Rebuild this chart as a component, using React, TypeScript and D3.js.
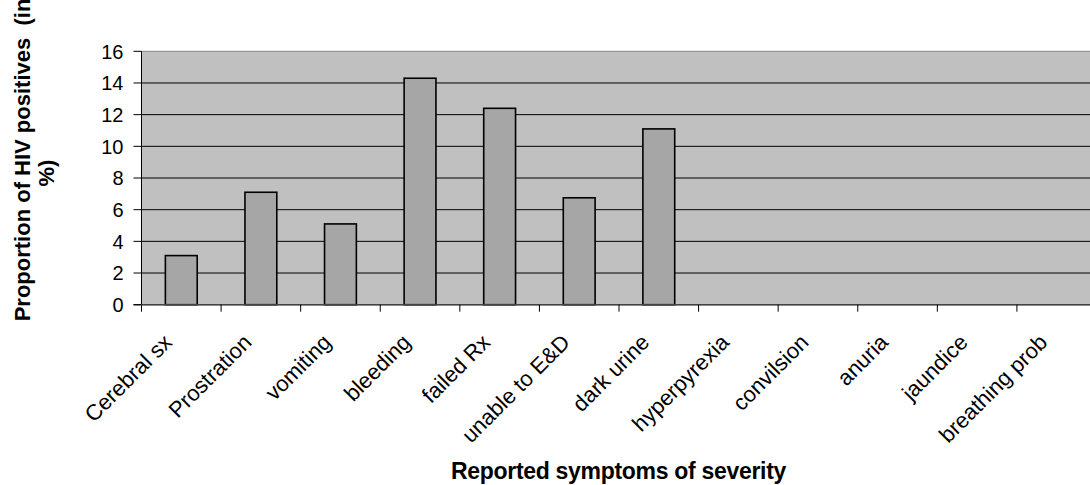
import React from "react";
import * as d3 from "d3";

const categories = [
  "Cerebral sx",
  "Prostration",
  "vomiting",
  "bleeding",
  "failed Rx",
  "unable to E&D",
  "dark urine",
  "hyperpyrexia",
  "convilsion",
  "anuria",
  "jaundice",
  "breathing prob",
];
const values = [3.1, 7.1, 5.1, 14.3, 12.4, 6.75, 11.1, 0, 0, 0, 0, 0];
const yTicks = [0, 2, 4, 6, 8, 10, 12, 14, 16];

const W = 1090;
const H = 485;
const left = 141.5;
const right = 1096.5;
const top = 51.3;
const bottom = 304.7;
const FONT = "Arial, 'Liberation Sans', Helvetica, sans-serif";

export default function App() {
  const x = d3.scaleBand<string>().domain(categories).range([left, right]).paddingInner(0).paddingOuter(0);
  const y = d3.scaleLinear().domain([0, 16]).range([bottom, top]);
  const bw = x.bandwidth() / 2.5;
  return (
    <svg
      width={W}
      height={H}
      style={{ position: "absolute", left: 0, top: 0, background: "#fff" }}
      fontFamily={FONT}
    >
      <rect x={left} y={top} width={right - left} height={bottom - top} fill="#c0c0c0" />
      {yTicks.map((t) => (
        <line
          key={"g" + t}
          x1={left}
          x2={right}
          y1={y(t)}
          y2={y(t)}
          stroke={t === 16 ? "#888" : "#000"}
          strokeWidth={1}
        />
      ))}
      {categories.map((c, i) =>
        values[i] > 0 ? (
          <rect
            key={"b" + c}
            x={x(c)! + (x.bandwidth() - bw) / 2}
            y={y(values[i])}
            width={bw}
            height={bottom - y(values[i])}
            fill="#a6a6a6"
            stroke="#000"
            strokeWidth={1.6}
          />
        ) : null
      )}
      <line x1={left} x2={left} y1={top} y2={bottom + 7} stroke="#000" strokeWidth={1} />
      <line x1={left - 8} x2={right} y1={bottom} y2={bottom} stroke="#444" strokeWidth={1.5} />
      {yTicks.map((t) => (
        <g key={"yt" + t}>
          <line x1={left - 8} x2={left} y1={y(t)} y2={y(t)} stroke="#000" />
          <text x={123.5} y={y(t)} dy="0.36em" textAnchor="end" fontSize={20} fill="#000">
            {t}
          </text>
        </g>
      ))}
      {categories.map((c) => (
        <line
          key={"xt" + c}
          x1={x(c)! + x.bandwidth()}
          x2={x(c)! + x.bandwidth()}
          y1={bottom}
          y2={bottom + 7}
          stroke="#000"
        />
      ))}
      {categories.map((c) => {
        const cx = x(c)! + x.bandwidth() / 2 - 8;
        const cy = bottom + 39;
        return (
          <text
            key={"xl" + c}
            x={cx}
            y={cy}
            textAnchor="end"
            fontSize={22}
            transform={`rotate(-45 ${cx} ${cy})`}
            fill="#000"
          >
            {c}
          </text>
        );
      })}
      <text
        x={618.5}
        y={479}
        textAnchor="middle"
        fontSize={23}
        fontWeight="bold"
        letterSpacing={-0.3}
        fill="#000"
      >
        Reported symptoms of severity
      </text>
      <g transform="rotate(-90)">
        <text
          x={-160}
          y={30}
          textAnchor="middle"
          fontSize={22}
          fontWeight="bold"
          fill="#000"
          xmlSpace="preserve"
          style={{ whiteSpace: "pre" }}
        >
          Proportion of HIV positives  (in
        </text>
        <text x={-173} y={54} textAnchor="middle" fontSize={22} fontWeight="bold" fill="#000">
          %)
        </text>
      </g>
    </svg>
  );
}
